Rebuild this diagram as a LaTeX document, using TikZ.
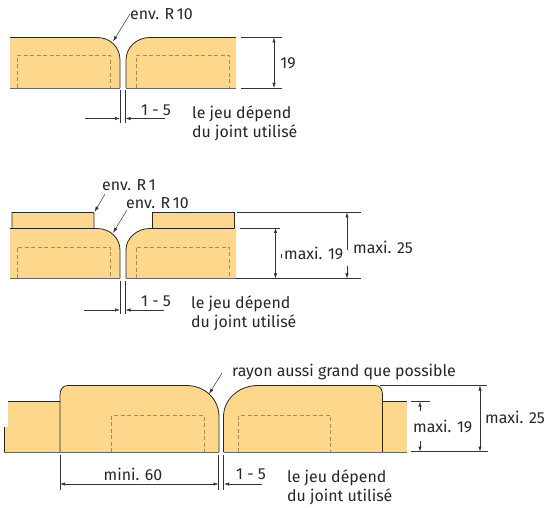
\documentclass[tikz,border=0pt]{standalone}
\usepackage{fontspec}
\setmainfont{Fira Sans}
\usetikzlibrary{arrows.meta}
\definecolor{wood}{HTML}{FDD88C}
\definecolor{hid}{HTML}{A08A5E}
\tikzset{
  x=1pt,y=-1pt,
  block/.style={fill=wood,draw=none},
  edge/.style={draw=black!85,line width=0.8pt},
  base/.style={draw=black!60,line width=0.8pt},
  hidden/.style={draw=hid,line width=0.7pt,dash pattern=on 4pt off 2.5pt},
  dimline/.style={draw=black!80,line width=0.6pt},
  dimarrow/.style={draw=black!80,line width=0.6pt,{Latex[length=5pt,width=3.4pt]}-{Latex[length=5pt,width=3.4pt]}},
  onearrow/.style={draw=black!80,line width=0.6pt,-{Latex[length=5pt,width=3.4pt]}},
  leader/.style={draw=black!80,line width=0.5pt,-{Latex[length=5.5pt,width=3.4pt]}},
  lbl/.style={inner sep=0pt,anchor=west,font=\fontsize{15.9}{18}\selectfont,text=black!85},
  lblc/.style={inner sep=0pt,anchor=center,font=\fontsize{15.9}{18}\selectfont,text=black!85},
}
\begin{document}
\begin{tikzpicture}
\useasboundingbox (0,0) rectangle (547,508);
% ---------- first joint
\fill[block] (10,37.5) -- (97,37.5) .. controls (110,37.5) and (120,47) .. (120,60) -- (120,88) -- (10,88) -- cycle;
\fill[block] (126,88) -- (126,60) .. controls (126,47) and (137,37.5) .. (150,37.5) -- (236,37.5) -- (236,88) -- cycle;
\draw[edge] (10,37.5) -- (97,37.5) .. controls (110,37.5) and (120,47) .. (120,60) -- (120,88);
\draw[edge] (126,88) -- (126,60) .. controls (126,47) and (137,37.5) .. (150,37.5) -- (236,37.5);
\draw[base] (10,88) -- (120,88) (126,88) -- (236,88);
\draw[hidden] (17,88) -- (17,55.5) -- (110,55.5) -- (110,88);
\draw[hidden] (136,88) -- (136,55.5) -- (229,55.5) -- (229,88);
\coordinate (a1) at (241,37.5); \coordinate (a2) at (282,37.5);
\coordinate (a3) at (241,88);   \coordinate (a4) at (282,88);
\coordinate (a5) at (274,37.5); \coordinate (a6) at (274,88);
\draw[dimline] (a1) -- (a2); \draw[dimline] (a3) -- (a4);
\draw[dimarrow] (a5) -- (a6);
\node[lblc] (t19a) at (288,63) {19};
\draw[dimline] (120,90) -- (120,123) (125.5,90) -- (125.5,123);
\coordinate (a7) at (85,118.5);  \coordinate (a8) at (120,118.5);
\coordinate (a9) at (165,118.5); \coordinate (a10) at (125.5,118.5);
\draw[onearrow] (a7) -- (a8); \draw[onearrow] (a9) -- (a10);
\node[lblc] (gapa) at (156,110) {1 - 5};
\node[lbl] (jeua) at (192,113.5) {le jeu dépend};
\node[lbl] (joia) at (192,132.5) {du joint utilisé};
\node[lbl] (r10a) at (130,14) {env. R\,10};
\coordinate (a11) at (113,41.5);
\draw[leader] (r10a.west) -- (a11);
% ---------- second joint
\fill[block] (10,228.5) -- (97,228.5) .. controls (110,228.5) and (120,238) .. (120,250) -- (120,278.5) -- (10,278.5) -- cycle;
\fill[block] (126,278.5) -- (126,250) .. controls (126,238) and (137,228.5) .. (150,228.5) -- (236,228.5) -- (236,278.5) -- cycle;
\fill[block] (12,212.5) rectangle (94,228.5);
\fill[block] (152,212.5) rectangle (234.5,228.5);
\draw[edge] (12,228.5) -- (12,212.5) -- (93,212.5) -- (94,213.5) -- (94,228.5);
\draw[edge] (152,228.5) -- (152,212.5) -- (234.5,212.5) -- (234.5,228.5);
\draw[edge] (10,228.5) -- (97,228.5) .. controls (110,228.5) and (120,238) .. (120,250) -- (120,278.5);
\draw[edge] (126,278.5) -- (126,250) .. controls (126,238) and (137,228.5) .. (150,228.5) -- (234.5,228.5);
\draw[base] (10,278.5) -- (120,278.5) (126,278.5) -- (236,278.5);
\draw[hidden] (17,278.5) -- (17,247) -- (110,247) -- (110,278.5);
\draw[hidden] (136,278.5) -- (136,247) -- (229,247) -- (229,278.5);
\coordinate (b1) at (237,212.5); \coordinate (b2) at (361,212.5);
\coordinate (b3) at (240,228);   \coordinate (b4) at (280,228);
\coordinate (b5) at (236,278.5); \coordinate (b6) at (361,278.5);
\coordinate (b7) at (275.5,228); \coordinate (b8) at (275.5,278.5);
\coordinate (b9) at (347,212.5); \coordinate (b10) at (347,250);
\coordinate (b11) at (347,278.5); \coordinate (b12) at (347,266);
\draw[dimline] (b1) -- (b2); \draw[dimline] (b3) -- (b4); \draw[dimline] (b5) -- (b6);
\draw[dimarrow] (b7) -- (b8);
\draw[onearrow] (b10) -- (b9); \draw[onearrow] (b12) -- (b11);
\draw[dimline] (281,254) -- (281,258);
\node[lbl] (m19b) at (284,253.5) {maxi. 19};
\node[lbl] (m25b) at (353,247.5) {maxi. 25};
\draw[dimline] (120,281) -- (120,314) (125.5,281) -- (125.5,314);
\coordinate (b13) at (84,310);  \coordinate (b14) at (120,310);
\coordinate (b15) at (164,310); \coordinate (b16) at (125.5,310);
\draw[onearrow] (b13) -- (b14); \draw[onearrow] (b15) -- (b16);
\node[lblc] (gapb) at (156,301) {1 - 5};
\node[lbl] (jeub) at (191,303.5) {le jeu dépend};
\node[lbl] (joib) at (191,323) {du joint utilisé};
\node[lbl] (r1b) at (102,185) {env. R\,1};
\node[lbl] (r10b) at (126,203) {env. R\,10};
\coordinate (b17) at (105,194); \coordinate (b18) at (94.5,212);
\coordinate (b19) at (127,210); \coordinate (b20) at (113,233);
\draw[leader] (b17) -- (b18); \draw[leader] (b19) -- (b20);
% ---------- third joint
\fill[block] (8,401.5) -- (60,401.5) -- (60,452) -- (4,452) -- (4,427) -- (8,427) -- cycle;
\fill[block] (382.5,401.5) rectangle (407,452);
\fill[block] (60,452) -- (60,395) .. controls (60,389) and (63,385.5) .. (68,385.5) -- (186,385.5) .. controls (205,385.5) and (219,399) .. (219,417) -- (219,452) -- cycle;
\fill[block] (223.5,452) -- (223.5,417) .. controls (223.5,399) and (239,385.5) .. (258,385.5) -- (375,385.5) .. controls (380,385.5) and (382.5,389) .. (382.5,395) -- (382.5,452) -- cycle;
\draw[edge] (4,452) -- (4,427);
\draw[edge] (8,401.5) -- (60,401.5);
\draw[edge] (382.5,401.5) -- (407,401.5);
\draw[edge] (60,452) -- (60,395) .. controls (60,389) and (63,385.5) .. (68,385.5) -- (186,385.5) .. controls (205,385.5) and (219,399) .. (219,417) -- (219,452);
\draw[edge] (223.5,452) -- (223.5,417) .. controls (223.5,399) and (239,385.5) .. (258,385.5) -- (375,385.5) .. controls (380,385.5) and (382.5,389) .. (382.5,395) -- (382.5,452);
\draw[base] (4,452) -- (219,452) (223.5,452) -- (407,452);
\draw[hidden] (111.5,452) -- (111.5,415.5) -- (204,415.5) -- (204,452);
\draw[hidden] (238.5,452) -- (238.5,415.5) -- (330.5,415.5) -- (330.5,452);
\coordinate (c1) at (380,385.5); \coordinate (c2) at (487,385.5);
\coordinate (c3) at (411,401.5); \coordinate (c4) at (430,401.5);
\coordinate (c5) at (411,451.5); \coordinate (c6) at (488,451.5);
\coordinate (c7) at (480,385.5); \coordinate (c8) at (480,451.5);
\coordinate (c9) at (420,401.5); \coordinate (c10) at (420,411);
\coordinate (c11) at (420,451.5); \coordinate (c12) at (420,441);
\draw[dimline] (c1) -- (c2); \draw[dimline] (c3) -- (c4); \draw[dimline] (c5) -- (c6);
\draw[dimarrow] (c7) -- (c8);
\draw[onearrow] (c10) -- (c9); \draw[onearrow] (c12) -- (c11);
\node[lbl] (m19c) at (413,426) {maxi. 19};
\node[lbl] (m25c) at (485,417) {maxi. 25};
\draw[dimline] (60,455) -- (60,490) (218.5,455) -- (218.5,490) (223.5,455) -- (223.5,490);
\coordinate (c13) at (60,484); \coordinate (c14) at (218.5,484);
\coordinate (c15) at (262,484); \coordinate (c16) at (224,484);
\draw[dimarrow] (c13) -- (c14);
\draw[onearrow] (c15) -- (c16);
\node[lblc] (minic) at (133,474) {mini. 60};
\node[lblc] (gapc) at (251,474) {1 - 5};
\node[lbl] (jeuc) at (287,477.5) {le jeu dépend};
\node[lbl] (joic) at (287,497) {du joint utilisé};
\node[lbl] (rayon) at (232,372) {rayon aussi grand que possible};
\coordinate (c17) at (222,373); \coordinate (c18) at (209,394);
\draw[leader] (c17) -- (c18);
\end{tikzpicture}
\end{document}
